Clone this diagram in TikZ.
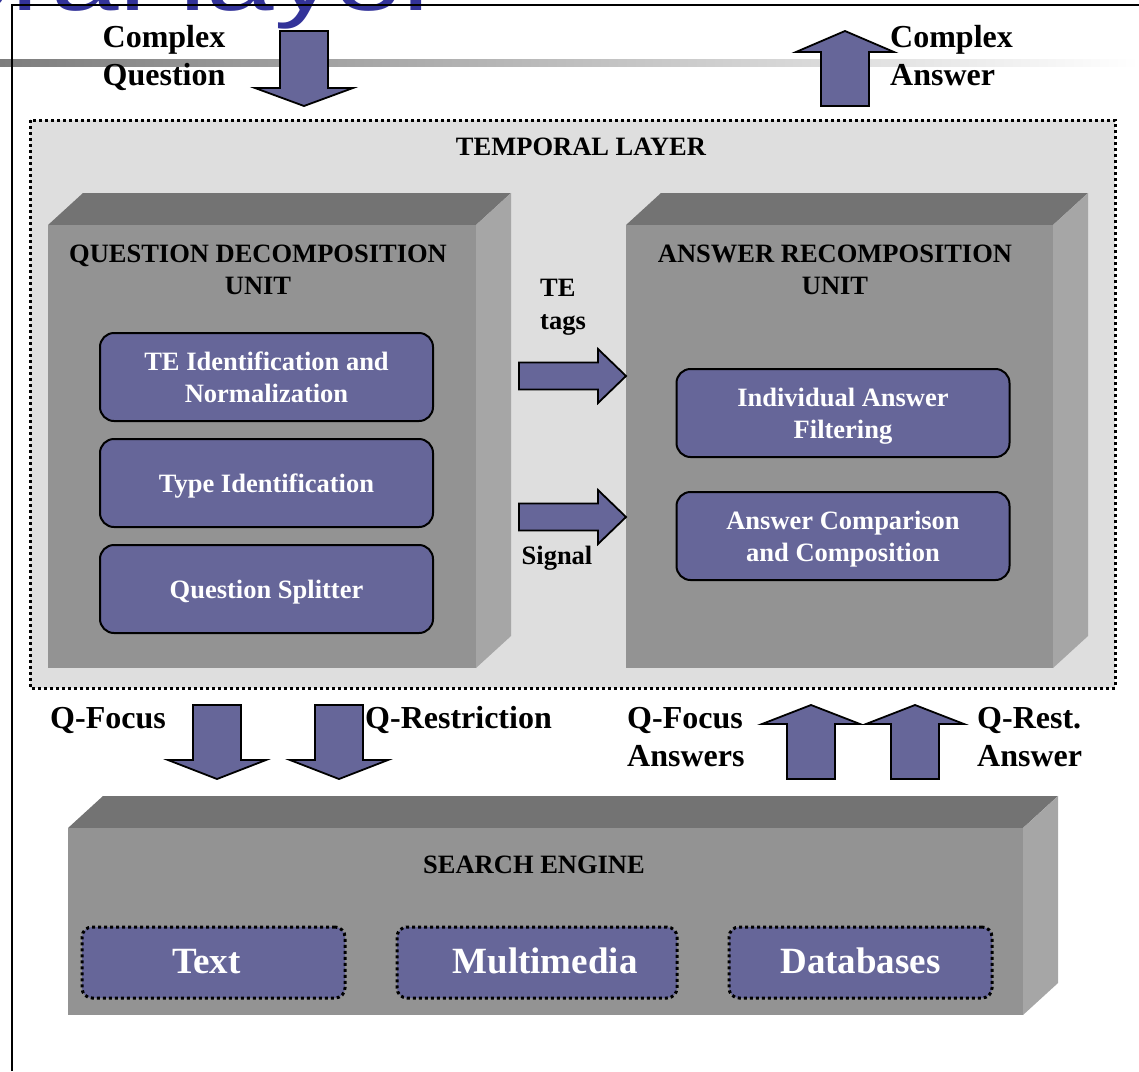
\documentclass[tikz,border=0pt]{standalone}
\usepackage{fontspec}
\setmainfont{Liberation Serif}
\newfontfamily\titlesans{Liberation Sans}
\definecolor{purp}{RGB}{102,102,153}
\definecolor{frontgray}{RGB}{147,147,147}
\definecolor{topgray}{RGB}{115,115,115}
\definecolor{sidegray}{RGB}{166,166,166}
\definecolor{layergray}{RGB}{222,222,222}
\definecolor{slideblue}{RGB}{51,51,153}
\definecolor{rulegray}{RGB}{125,125,125}

% solid 3D block: front rectangle (#1,#2)-(#3,#4), extruded up and to the right
\newcommand{\solidblock}[4]{%
  \fill[topgray] (#1,#2) -- (#1+35,#2-32) -- (#3+35,#2-32) -- (#3,#2) -- cycle;
  \fill[sidegray] (#3,#2) -- (#3+35,#2-32) -- (#3+35,#4-32) -- (#3,#4) -- cycle;
  \fill[frontgray] (#1,#2) rectangle (#3,#4);}
% vertical block arrow: centre x, start y, wing y, tip y
\newcommand{\blockvert}[4]{%
  \draw[blockarrow] (#1-24,#2) -- (#1+24,#2) -- (#1+24,#3) -- (#1+49,#3) -- (#1,#4)
    -- (#1-49,#3) -- (#1-24,#3) -- cycle;}
% horizontal block arrow: centre y, start x, wing x, tip x
\newcommand{\blockright}[4]{%
  \draw[blockarrow] (#2,#1-13.5) -- (#3,#1-13.5) -- (#3,#1-27) -- (#4,#1) -- (#3,#1+27)
    -- (#3,#1+13.5) -- (#2,#1+13.5) -- cycle;}

\begin{document}
\begin{tikzpicture}[x=1pt,y=-1pt,
  lbl/.style={font=\fontsize{32}{38}\selectfont\bfseries, inner sep=0},
  ttl/.style={font=\fontsize{26.5}{32}\selectfont\bfseries, inner sep=0, align=center},
  proc/.style={draw=black, line width=2, fill=purp, rounded corners=14, text=white,
    font=\fontsize{26.5}{32}\selectfont\bfseries, align=center, text depth=0pt,
    minimum width=333, minimum height=88, inner sep=0},
  src/.style={draw=black, line width=3, dash pattern=on 3 off 3, fill=purp,
    rounded corners=10, text=white, font=\fontsize{37}{44}\selectfont\bfseries,
    minimum height=71, inner sep=0},
  dotborder/.style={draw=black, line width=3, dash pattern=on 3 off 3},
  blockarrow/.style={draw=black, line width=1.8, fill=purp, line join=miter}]
\useasboundingbox (0,0) rectangle (1139,1071);

% slide heading, cut by the top edge
\begin{scope}
  \clip (0,0) rectangle (1139,40);
  \begin{scope}[shift={(-354,10)}, xscale=1.35]
    \node[anchor=base west, inner sep=0, text=slideblue, transform shape,
      font=\titlesans\fontsize{90}{90}\selectfont] (slidetitle) at (0,0) {Temporal layer};
  \end{scope}
\end{scope}

% fading rule under the heading
\shade[left color=rulegray, right color=white] (0,59) rectangle (1139,66);
% frame
\draw[line width=2.5] (12,1071) -- (12,5) -- (1139,5);

% temporal layer
\draw[dotborder, fill=layergray] (30,120) rectangle (1115,688);
\node[ttl] (layertitle) at (581,147) {TEMPORAL LAYER};

\solidblock{48}{225}{476}{668}
\solidblock{626}{225}{1053}{668}
\solidblock{68}{828}{1023}{1015}

\node[ttl] (qdutitle) at (258,270) {QUESTION DECOMPOSITION\\UNIT};
\node[ttl] (arutitle) at (835,270) {ANSWER RECOMPOSITION\\UNIT};

\node[proc] (teid) at (266.5,377) {TE Identification and\\Normalization};
\node[proc] (typeid) at (266.5,483) {Type Identification};
\node[proc] (qsplit) at (266.5,589) {Question Splitter};
\node[proc] (indfilt) at (843,413) {Individual Answer\\Filtering};
\node[proc] (anscomp) at (843,536) {Answer Comparison\\and Composition};

% search engine
\node[ttl] (setitle) at (534,865) {SEARCH ENGINE};
\node[src, minimum width=263] (srctext) at (213.5,962.5) {\raisebox{3pt}{Text}\kern14pt};
\node[src, minimum width=280] (srcmm) at (537,962.5) {\kern16pt\raisebox{3pt}{Multimedia}};
\node[src, minimum width=263] (srcdb) at (860.5,962.5) {\raisebox{4pt}{Databases}};

% flows
\blockvert{304}{31}{88}{106}
\blockvert{845}{106}{52}{31}
\blockright{376}{519}{598}{626}
\blockright{517}{519}{598}{626}
\blockvert{217}{705}{760}{779}
\blockvert{339}{705}{760}{779}
\blockvert{811}{779}{724}{705}
\blockvert{915}{779}{724}{705}

% labels
\node[lbl, align=center] (cqlbl) at (164,58) {Complex\\Question};
\node[lbl, align=left, anchor=west] (calbl) at (890,56) {Complex\\Answer};
\node[ttl, align=left, anchor=west, font=\fontsize{26.5}{33}\selectfont\bfseries] (tetags) at (540,307) {TE\\tags};
\node[ttl] (signal) at (557,558) {Signal};
\node[lbl] (qfocus) at (108,720) {Q-Focus};
\node[lbl, anchor=west] (qrestr) at (365,720) {Q-Restriction};
\node[lbl, align=left, anchor=west] (qfans) at (627,737) {Q-Focus\\Answers};
\node[lbl, align=left, anchor=west] (qrans) at (977,737) {Q-Rest.\\Answer};
\end{tikzpicture}
\end{document}
